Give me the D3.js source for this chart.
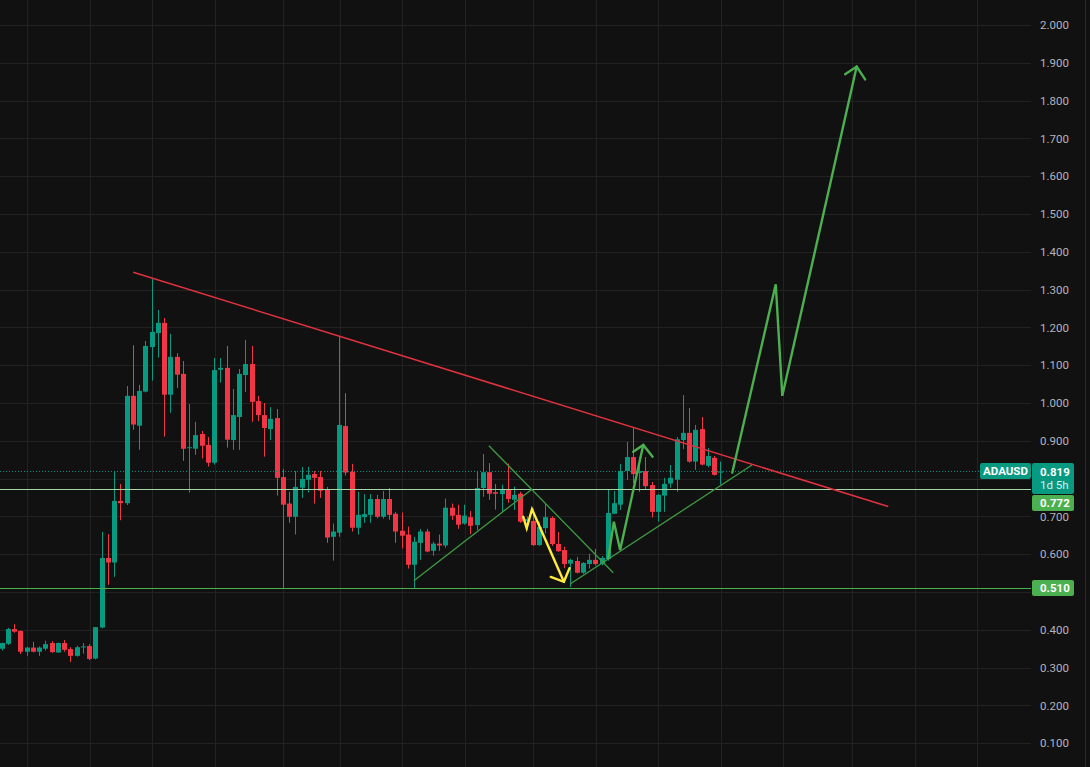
<!DOCTYPE html>
<html><head><meta charset="utf-8">
<script src="https://cdn.jsdelivr.net/npm/d3@7"></script>
<style>html,body{margin:0;padding:0;background:#111111;overflow:hidden}svg{display:block}</style>
</head><body><svg id="c" width="1090" height="767"></svg>
<script>
// ---- data (3-day ADAUSD candles) ----
const opens  = [0.350,0.363,0.402,0.397,0.342,0.353,0.342,0.350,0.365,0.340,0.365,0.349,0.331,0.354,0.357,0.324,0.406,0.590,0.578,0.741,
0.735,1.019,0.940,1.030,1.148,1.185,1.212,1.022,1.122,1.077,0.882,0.879,0.918,0.889,0.842,1.088,1.093,0.902,0.963,1.074,
1.103,1.005,0.968,0.931,0.960,0.804,0.734,0.699,0.776,0.797,0.812,0.804,0.771,0.646,0.657,0.939,0.818,0.670,0.698,0.704,
0.746,0.699,0.746,0.707,0.662,0.652,0.572,0.630,0.660,0.609,0.628,0.623,0.723,0.704,0.681,0.698,0.677,0.775,0.817,0.764,
0.759,0.770,0.744,0.760,0.688,0.688,0.624,0.669,0.696,0.627,0.611,0.575,0.582,0.551,0.574,0.585,0.574,0.587,0.707,0.731,
0.820,0.857,0.815,0.820,0.783,0.712,0.755,0.787,0.797,0.902,0.921,0.845,0.931,0.834,0.855,0.816];
const highs  = [0.366,0.405,0.415,0.398,0.355,0.368,0.356,0.371,0.370,0.366,0.373,0.354,0.358,0.365,0.362,0.407,0.659,0.653,0.820,0.786,
1.045,1.153,1.048,1.164,1.328,1.246,1.225,1.183,1.132,1.111,0.997,0.950,0.926,0.910,1.119,1.119,1.151,1.037,1.090,1.167,
1.151,1.019,1.000,0.989,0.984,0.825,0.765,0.820,0.831,0.831,0.820,0.820,0.778,0.681,1.175,1.026,0.839,0.765,0.759,0.759,
0.757,0.767,0.775,0.712,0.710,0.673,0.646,0.667,0.667,0.633,0.652,0.747,0.734,0.731,0.731,0.714,0.818,0.865,0.841,0.786,
0.784,0.840,0.779,0.765,0.700,0.721,0.686,0.735,0.700,0.659,0.620,0.588,0.593,0.579,0.601,0.614,0.595,0.772,0.767,0.839,
0.897,0.935,0.857,0.857,0.791,0.759,0.802,0.836,0.910,1.021,0.987,0.942,0.963,0.881,0.860,0.845];
const lows   = [0.345,0.360,0.392,0.336,0.331,0.340,0.331,0.345,0.339,0.339,0.342,0.315,0.329,0.337,0.320,0.322,0.404,0.519,0.540,0.690,
0.730,0.929,0.876,1.028,1.059,1.120,0.911,0.974,1.040,0.847,0.763,0.863,0.853,0.832,0.837,1.054,0.882,0.876,0.876,1.029,
0.950,0.952,0.858,0.902,0.755,0.511,0.683,0.652,0.749,0.763,0.734,0.749,0.630,0.583,0.646,0.808,0.660,0.652,0.683,0.683,
0.695,0.694,0.691,0.630,0.615,0.562,0.511,0.585,0.605,0.596,0.609,0.617,0.691,0.667,0.678,0.653,0.664,0.752,0.744,0.718,
0.711,0.736,0.717,0.683,0.664,0.622,0.622,0.655,0.622,0.606,0.563,0.513,0.549,0.548,0.562,0.570,0.570,0.583,0.706,0.717,
0.796,0.788,0.765,0.772,0.697,0.686,0.712,0.776,0.765,0.878,0.842,0.823,0.835,0.830,0.808,0.784];
const closes = [0.365,0.402,0.395,0.342,0.353,0.342,0.353,0.362,0.341,0.365,0.347,0.331,0.354,0.356,0.323,0.407,0.590,0.578,0.741,0.735,
1.019,0.943,1.032,1.151,1.188,1.212,1.022,1.122,1.075,0.879,0.883,0.915,0.887,0.842,1.087,1.093,0.903,0.968,1.077,1.103,
1.003,0.968,0.934,0.958,0.802,0.731,0.699,0.778,0.799,0.810,0.802,0.768,0.644,0.660,0.942,0.816,0.670,0.704,0.706,0.746,
0.699,0.746,0.704,0.660,0.649,0.572,0.633,0.660,0.607,0.628,0.623,0.723,0.702,0.678,0.702,0.675,0.775,0.817,0.760,0.760,
0.770,0.746,0.757,0.686,0.693,0.624,0.672,0.698,0.627,0.608,0.574,0.585,0.551,0.577,0.585,0.574,0.590,0.709,0.735,0.820,
0.857,0.812,0.820,0.780,0.712,0.757,0.786,0.802,0.904,0.921,0.845,0.929,0.837,0.860,0.810,0.819];
const priceTicks = [0.1,0.2,0.3,0.4,0.5,0.6,0.7,0.8,0.9,1.0,1.1,1.2,1.3,1.4,1.5,1.6,1.7,1.8,1.9,2.0];
const timeGrid = [4,14,24,34,45,54,64,74,85,95,105,115,125,136,146,156]; // month starts, in candle index
const symbol = "ADAUSD";
const lastPrice = 0.819, countdown = "1d 5h";
const levelPrices = [0.772, 0.510];
// drawings: [candle index, price]
const resistance = [[21.0,1.346],[141.8,0.726]];
const thinGreen = [
  [[65.9,0.530],[84.8,0.772]],
  [[77.9,0.887],[97.8,0.551]],
  [[90.9,0.521],[120.0,0.836]]
];
const yellowPath = [[83.4,0.699],[83.95,0.669],[84.8,0.719],[89.9,0.527]];
const yellowHead = [[87.8,0.540],[89.9,0.527],[90.8,0.563]];
const smallArrow = [[97.0,0.589],[97.9,0.686],[98.9,0.611],[102.6,0.889]];
const smallHead  = [[101.0,0.871],[102.6,0.889],[104.1,0.858]];
const bigArrow   = [[116.85,0.816],[123.8,1.314],[124.85,1.019],[136.75,1.890]];
const bigHead    = [[134.9,1.870],[136.75,1.890],[138.1,1.856]];

// ---- drawing ----
const W = 1090, H = 767, plotR = 1031;
const UP = "#089981", DN = "#f23645", GRN = "#4caf50";
const svg = d3.select("#c");
svg.append("rect").attr("width",W).attr("height",H).attr("fill","#111111");
const x = d3.scaleLinear().domain([0,115]).range([2,720.75]);
const y = d3.scaleLinear().domain([0.1,2.0]).range([743.2,25]);
const font = "Roboto, 'Liberation Sans', sans-serif";

svg.append("defs").append("clipPath").attr("id","pc").append("rect").attr("x",0).attr("y",0).attr("width",plotR).attr("height",H);
const plot = svg.append("g").attr("clip-path","url(#pc)");

// grid
plot.append("g").selectAll("line").data(priceTicks).join("line")
  .attr("x1",0).attr("x2",plotR).attr("y1",d=>Math.round(y(d))+0.5).attr("y2",d=>Math.round(y(d))+0.5)
  .attr("stroke","#222222").attr("stroke-width",1);
plot.append("g").selectAll("line").data(timeGrid).join("line")
  .attr("x1",d=>Math.round(x(d))+0.5).attr("x2",d=>Math.round(x(d))+0.5).attr("y1",0).attr("y2",H)
  .attr("stroke","#222222").attr("stroke-width",1);

// candles
const data = opens.map((o,i)=>({i,o,h:highs[i],l:lows[i],c:closes[i]}));
const cg = plot.append("g");
data.forEach(d=>{
  const col = d.c >= d.o ? UP : DN;
  const left = Math.round(x(d.i) - 2.5);
  const cx = left + 2.5;
  cg.append("line").attr("x1",cx).attr("x2",cx).attr("y1",y(d.h)).attr("y2",y(d.l))
    .attr("stroke",col).attr("stroke-width",1);
  const top = y(Math.max(d.o,d.c)), bot = y(Math.min(d.o,d.c));
  cg.append("rect").attr("x",left).attr("y",top).attr("width",5).attr("height",Math.max(1,bot-top)).attr("fill",col);
});

// horizontal levels
plot.append("line").attr("x1",0).attr("x2",plotR).attr("y1",y(lastPrice)).attr("y2",y(lastPrice))
  .attr("stroke",UP).attr("stroke-width",1).attr("stroke-dasharray","1,2");
plot.selectAll(".lvl").data(levelPrices).join("line").attr("class","lvl")
  .attr("x1",0).attr("x2",plotR).attr("y1",d=>Math.round(y(d))+0.5).attr("y2",d=>Math.round(y(d))+0.5)
  .attr("stroke",(d,i)=> i===0 ? "#a5d6a7" : GRN).attr("stroke-width",1);

// trend lines
const line = d3.line().x(p=>x(p[0])).y(p=>y(p[1]));
plot.append("path").attr("d",line(resistance)).attr("fill","none").attr("stroke","#e0323f").attr("stroke-width",1.5);
thinGreen.forEach(s=> plot.append("path").attr("d",line(s)).attr("fill","none").attr("stroke","#3f9a43").attr("stroke-width",1.3));
[[yellowPath,"#ffeb3b"],[yellowHead,"#ffeb3b"],[smallArrow,GRN],[smallHead,GRN],[bigArrow,GRN],[bigHead,GRN]].forEach(([p,c])=>{
  plot.append("path").attr("d",line(p)).attr("fill","none").attr("stroke",c).attr("stroke-width",2.4)
    .attr("stroke-linejoin","miter").attr("stroke-linecap","round");
});

// price label boxes (computed first so covered tick labels can be hidden)
const yl = y(lastPrice);
const top0 = Math.round(yl - 8);
const boxes = [{top:top0, h:31}];
let prevBottom = top0 + 31;
const levelBoxes = levelPrices.map(p=>{
  let t = Math.round(y(p) - 8.5);
  if (t < prevBottom + 1) t = prevBottom + 1;
  prevBottom = t + 16;
  boxes.push({top:t, h:16});
  return {p, t};
});

// price axis
const ax = svg.append("g").attr("transform",`translate(${plotR},0)`)
  .call(d3.axisRight(y).tickValues(priceTicks).tickFormat(d3.format(".3f")).tickSize(0).tickPadding(9));
ax.select(".domain").remove();
ax.selectAll(".tick").filter(d=> boxes.some(b=> y(d) > b.top - 4 && y(d) < b.top + b.h + 3)).remove();
ax.selectAll("text").attr("fill","#b2b5be").style("font-family",font).style("font-size","11.5px");

// labels
svg.append("rect").attr("x",980).attr("y",top0).attr("width",51).attr("height",16).attr("rx",2).attr("fill",UP);
svg.append("text").attr("x",1005.5).attr("y",top0+8).attr("dy","0.35em").attr("text-anchor","middle")
  .attr("fill","#fff").style("font-family",font).style("font-size","11.5px").style("font-weight","bold").text(symbol);
svg.append("rect").attr("x",1032).attr("y",top0).attr("width",42).attr("height",31).attr("rx",2).attr("fill",UP);
svg.append("text").attr("x",1040).attr("y",top0+8.5).attr("dy","0.35em")
  .attr("fill","#fff").style("font-family",font).style("font-size","11.5px").style("font-weight","bold").text(d3.format(".3f")(lastPrice));
svg.append("text").attr("x",1040).attr("y",top0+22).attr("dy","0.35em")
  .attr("fill","#d8efea").style("font-family",font).style("font-size","11.5px").text(countdown);
levelBoxes.forEach(({p,t})=>{
  svg.append("rect").attr("x",1032).attr("y",t).attr("width",42).attr("height",16).attr("rx",2).attr("fill",GRN);
  svg.append("text").attr("x",1040).attr("y",t+8).attr("dy","0.35em")
    .attr("fill","#fff").style("font-family",font).style("font-size","11.5px").style("font-weight","bold").text(d3.format(".3f")(p));
});

// right edge separator
svg.append("line").attr("x1",1085.5).attr("x2",1085.5).attr("y1",0).attr("y2",H).attr("stroke","#2a2a2a");
</script></body></html>
